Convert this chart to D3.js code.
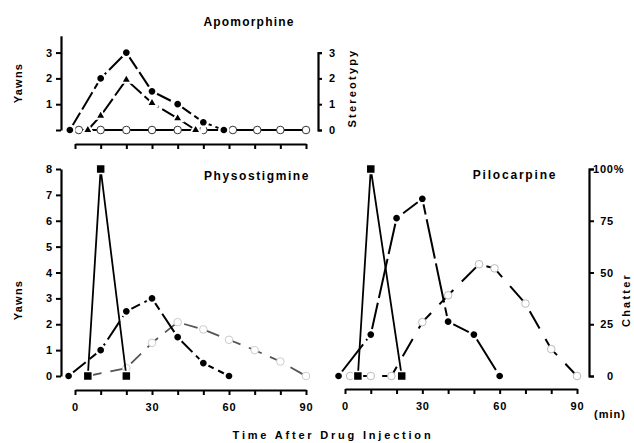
<!DOCTYPE html>
<html>
<head>
<meta charset="utf-8">
<script src="https://cdn.jsdelivr.net/npm/d3@7"></script>
<style>
  body { margin: 0; background: #fff; }
  svg { display: block; }
</style>
</head>
<body>
<svg id="chart" width="634" height="443"></svg>
<script>
// Apomorphine (top)
const apoYawnTime = [-2, 10, 20, 30, 40, 50, 58];
const apoYawns = [0, 2, 3, 1.5, 1, 0.3, 0];
const apoStereoTime = [5, 10, 20, 30, 40, 47];
const apoStereo = [0, 0.55, 1.95, 1.05, 0.45, 0];
const apoOpenTime = [1.5, 10, 20, 30, 40, 50, 61.5, 71, 80, 90];
const apoOpen = [0, 0, 0, 0, 0, 0, 0, 0, 0, 0];

// Physostigmine (bottom left)
const physoYawnTime = [-2.5, 10, 20, 30, 40, 50, 60];
const physoYawns = [0, 1, 2.5, 3, 1.5, 0.5, 0];
const physoSqTime = [5, 10, 20];
const physoSq = [0, 100, 0];            // % chatter
const physoOpenTime = [5, 20, 30, 40, 50, 60, 70, 80, 90];
const physoOpen = [0, 3.8, 16, 26, 22.5, 17.5, 12.5, 7, 0];

// Pilocarpine (bottom right)
const piloYawnTime = [-2.5, 10, 20, 30, 40, 50, 60];
const piloYawns = [0, 1.6, 6.1, 6.85, 2.1, 1.6, 0];
const piloSqTime = [5, 10, 22];
const piloSq = [0, 100, 0];
const piloOpenTime = [2, 10, 18, 30, 40, 52, 58, 70, 80, 90];
const piloOpen = [0, 0, 0, 26, 39, 54, 52, 35, 13, 0];

const xTicks = d3.range(0, 91, 10);
const xLabels = [0, 30, 60, 90];
const yawnTicks = d3.range(0, 9);
const stereoTicks = [0, 1, 2, 3];
const pctTicks = [0, 25, 50, 75, 100];

const FONT = "'Liberation Sans', Arial, sans-serif";
const svg = d3.select("#chart");
svg.append("rect").attr("width", 634).attr("height", 443).attr("fill", "#fff");

// scales
const xTop = d3.scaleLinear([0, 90], [75, 306]);
const yTop = d3.scaleLinear([0, 3.65], [130, 35.8]);
const yStereo = d3.scaleLinear([0, 3], [130, yTop(3)]);
const xL = d3.scaleLinear([0, 90], [75, 306]);
const xR = d3.scaleLinear([0, 90], [345, 577]);
const yB = d3.scaleLinear([0, 8], [376, 169]);
const yPct = d3.scaleLinear([0, 100], [376, 169]);

function styleAxis(g) {
  g.attr("font-family", FONT).attr("font-size", 11).attr("font-weight", "bold");
  g.select(".domain").attr("stroke-width", 2.2);
  g.selectAll(".tick line").attr("stroke-width", 2);
  g.selectAll(".tick text").attr("letter-spacing", 0.8);
}

// ---- axes, top panel
svg.append("g").attr("transform", "translate(61,0)")
  .call(d3.axisLeft(yTop).tickValues(stereoTicks).tickFormat(d => d ? d : "")
    .tickSizeInner(5).tickSizeOuter(0).tickPadding(3))
  .call(styleAxis);
svg.append("g").attr("transform", "translate(318,0)")
  .call(d3.axisRight(yStereo).tickValues(stereoTicks).tickFormat(d3.format("d"))
    .tickSizeInner(4).tickSizeOuter(4).tickPadding(7))
  .call(styleAxis);
svg.append("g").attr("transform", "translate(0,144)")
  .call(d3.axisBottom(xTop).tickValues(xTicks).tickFormat("").tickSizeInner(5).tickSizeOuter(0))
  .call(styleAxis);

// ---- axes, bottom panels
svg.append("g").attr("transform", "translate(61,0)")
  .call(d3.axisLeft(yB).tickValues(yawnTicks).tickSizeInner(5).tickSizeOuter(0).tickPadding(3))
  .call(styleAxis);
const xfmt = d => xLabels.includes(d) ? d : "";
svg.append("g").attr("transform", "translate(0,390)")
  .call(d3.axisBottom(xL).tickValues(xTicks).tickFormat(xfmt).tickSizeInner(5).tickSizeOuter(0).tickPadding(8))
  .call(styleAxis);
svg.append("g").attr("transform", "translate(0,389)")
  .call(d3.axisBottom(xR).tickValues(xTicks).tickFormat(xfmt).tickSizeInner(5).tickSizeOuter(0).tickPadding(8))
  .call(styleAxis);
const rAx = svg.append("g").attr("transform", "translate(589,0)")
  .call(d3.axisRight(yPct).tickValues(pctTicks).tickFormat(d => d === 100 ? "100%" : d)
    .tickSizeInner(5).tickSizeOuter(5))
  .call(styleAxis);
rAx.selectAll(".tick text")
  .attr("text-anchor", d => d === 100 ? "start" : "end")
  .attr("x", d => d === 100 ? 4 : 25);

// ---- series
function series(x, y, times, vals, opt) {
  const pts = d3.zip(times, vals);
  const line = d3.line().x(d => x(d[0])).y(d => y(d[1]));
  svg.append("path").datum(pts)
    .attr("d", line)
    .attr("fill", "none")
    .attr("stroke", opt.color || "#000")
    .attr("stroke-width", opt.width || 2)
    .attr("stroke-dasharray", opt.dash || null)
    .attr("stroke-linejoin", "round");
  const m = svg.append("g");
  const sel = m.selectAll("g").data(pts).join("g")
    .attr("transform", d => `translate(${x(d[0])},${y(d[1])})`);
  if (opt.marker === "dot") {
    sel.append("circle").attr("r", 4.6).attr("fill", "#000").attr("stroke", "#fff").attr("stroke-width", 2.5);
  } else if (opt.marker === "square") {
    sel.append("rect").attr("x", -4.5).attr("y", -4.5).attr("width", 9).attr("height", 9)
      .attr("fill", "#000").attr("stroke", "#fff").attr("stroke-width", 1.5);
  } else if (opt.marker === "tri") {
    sel.append("path").attr("d", d3.symbol(d3.symbolTriangle, 46)())
      .attr("fill", "#000").attr("stroke", "#fff").attr("stroke-width", 2);
  } else if (opt.marker === "open") {
    sel.append("circle").attr("r", 3.8).attr("fill", "#fff")
      .attr("stroke", opt.markColor || "#000").attr("stroke-width", 1);
  }
}

// top
series(xTop, yTop, apoOpenTime, apoOpen, { marker: "open", width: 2, markColor: "#333" });
series(xTop, yStereo, apoStereoTime, apoStereo, { marker: "tri", dash: "18,4" });
series(xTop, yTop, apoYawnTime, apoYawns, { marker: "dot", dash: "20,4" });

// bottom left
series(xL, yPct, physoOpenTime, physoOpen, { marker: "open", width: 1.8, dash: "14,9", color: "#555", markColor: "#ccc" });
series(xL, yPct, physoSqTime, physoSq, { marker: "square", width: 1.8 });
series(xL, yB, physoYawnTime, physoYawns, { marker: "dot", dash: "22,5" });

// bottom right
series(xR, yPct, piloOpenTime, piloOpen, { marker: "open", width: 2, dash: "20,12", markColor: "#bbb" });
series(xR, yPct, piloSqTime, piloSq, { marker: "square", width: 1.8 });
series(xR, yB, piloYawnTime, piloYawns, { marker: "dot", dash: "40,5" });

// ---- text
function label(x, y, txt, size, ls, rot) {
  svg.append("text")
    .attr("transform", `translate(${x},${y})` + (rot ? ` rotate(${rot})` : ""))
    .attr("text-anchor", "middle").attr("dominant-baseline", "central")
    .attr("font-family", FONT).attr("font-weight", "bold")
    .attr("font-size", size).attr("letter-spacing", ls)
    .text(txt);
}
label(249, 22, "Apomorphine", 12, 1.2);
label(257, 176, "Physostigmine", 12, 1.6);
label(515, 175, "Pilocarpine", 12, 1.8);
label(18, 83, "Yawns", 11, 1.2, -90);
label(18, 300, "Yawns", 11, 1.2, -90);
label(352, 88, "Stereotypy", 11, 2.2, -90);
label(626, 300, "Chatter", 11, 2.2, -90);
label(333, 435, "Time After Drug Injection", 11, 2.8);
label(610, 414, "(min)", 11, 1);
</script>
</body>
</html>
